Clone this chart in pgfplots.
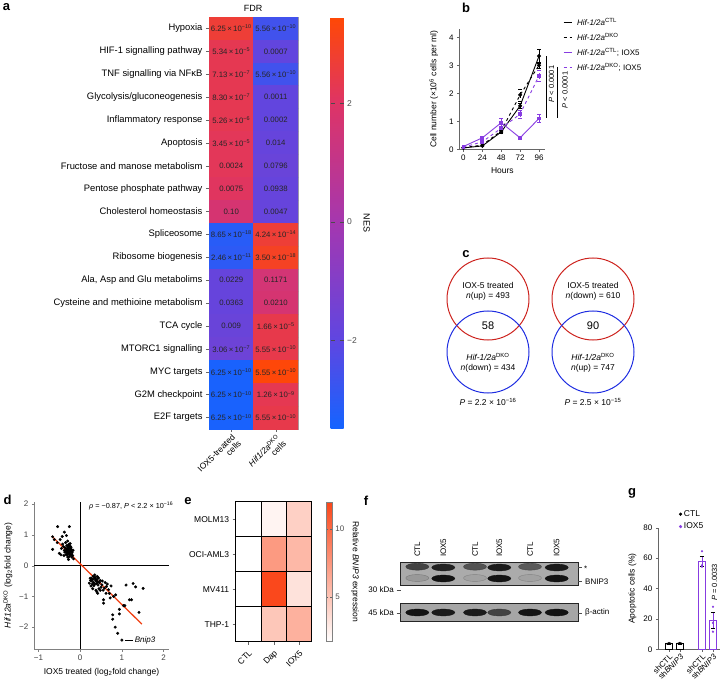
\documentclass[border=0pt]{standalone}
\usepackage{pgfplots}
\pgfplotsset{compat=1.18}
\usepackage{fontspec}
\setmainfont{Liberation Sans}
\definecolor{iox}{RGB}{135,60,225}
\definecolor{vred}{RGB}{205,35,30}
\definecolor{vblue}{RGB}{30,45,225}
\definecolor{regr}{RGB}{240,65,20}
\newcommand{\sci}[2]{#1\,×\,10\textsuperscript{#2}}
\newcommand{\fs}[1]{\fontsize{#1}{#1}\selectfont}
\pgfplotsset{every axis/.append style={/pgf/number format/assume math mode=true, font=\fs{8.5}}}
\begin{document}
\begin{tikzpicture}
\useasboundingbox (0,0) rectangle (721pt,-687pt);

% ---------- panel a: GSEA heatmap ----------
\begin{axis}[
  at={(209pt,-17pt)}, anchor=north west,
  scale only axis, width=89pt, height=412pt,
  xmin=-0.5, xmax=1.5, ymin=-0.5, ymax=17.5, y dir=reverse,
  axis line style={black!35, thin},
  xtick={0,1}, ytick={0,1,...,17},
  xticklabels={{IOX5-treated\\cells},{\textit{Hif1/2a}\textsuperscript{DKO}\\cells}},
  yticklabels={Hypoxia, HIF-1 signalling pathway, TNF signalling via NFκB,
    Glycolysis/gluconeogenesis, Inflammatory response, Apoptosis,
    Fructose and manose metabolism, Pentose phosphate pathway,
    Cholesterol homeostasis, Spliceosome, Ribosome biogenesis,
    {Ala, Asp and Glu metabolims}, Cysteine and methioine metabolism,
    TCA cycle, MTORC1 signalling, MYC targets, G2M checkpoint, E2F targets},
  xtick pos=bottom, ytick pos=left,
  tick align=outside, major tick length=3pt, tick style={black!60, thin},
  x tick label style={rotate=45, anchor=north east, align=right, font=\fs{8.5}, inner sep=1pt},
  y tick label style={font=\fs{9.4}},
  colormap={nes}{rgb255(0pt)=(20,100,255); rgb255(150pt)=(95,70,225); rgb255(350pt)=(165,55,175); rgb255(550pt)=(222,52,102); rgb255(696pt)=(255,72,5)},
  point meta min=-3.5, point meta max=3.46,
  colorbar,
  colorbar style={at={(parent axis.north east)}, anchor=north west, xshift=24pt, width=13pt,
    ytick={-2,0,2}, yticklabels={−2,0,2}, ylabel={NES},
    ylabel style={rotate=180, font=\fs{9}}, yticklabel style={font=\fs{8.5}, text=black!70},
    axis line style={draw=none}, major tick length=4pt, tick style={black!70}},
]
\addplot[matrix plot*, mesh/cols=2, point meta=explicit] table[meta=c] {
x y c
0 0 2.7
1 0 -2.6
0 1 2.3
1 1 -1.9
0 2 2.3
1 2 -2.6
0 3 2.3
1 3 -1.9
0 4 2.3
1 4 -1.9
0 5 2.2
1 5 -1.8
0 6 2.2
1 6 -1.7
0 7 2.1
1 7 -1.8
0 8 1.7
1 8 -1.8
0 9 -3.1
1 9 2.7
0 10 -3.0
1 10 3.0
0 11 -1.8
1 11 1.6
0 12 -1.8
1 12 1.7
0 13 -1.7
1 13 2.4
0 14 -1.6
1 14 2.4
0 15 -3.4
1 15 3.4
0 16 -3.4
1 16 2.3
0 17 -3.4
1 17 2.4
};
\addplot[draw=none, mark=none, nodes near coords, point meta=explicit symbolic,
  every node near coord/.style={font=\fs{7.8}, text=black!85, anchor=center}]
  table[meta=t] {
x y t
0 0 \sci{6.25}{−10}
1 0 \sci{5.56}{−10}
0 1 \sci{5.34}{−5}
1 1 0.0007
0 2 \sci{7.13}{−7}
1 2 \sci{5.56}{−10}
0 3 \sci{8.30}{−7}
1 3 0.0011
0 4 \sci{5.26}{−6}
1 4 0.0002
0 5 \sci{3.45}{−5}
1 5 0.014
0 6 0.0024
1 6 0.0796
0 7 0.0075
1 7 0.0938
0 8 0.10
1 8 0.0047
0 9 \sci{8.65}{−18}
1 9 \sci{4.24}{−14}
0 10 \sci{2.46}{−11}
1 10 \sci{3.50}{−18}
0 11 0.0229
1 11 0.1171
0 12 0.0363
1 12 0.0210
0 13 0.009
1 13 \sci{1.66}{−5}
0 14 \sci{3.06}{−7}
1 14 \sci{5.55}{−10}
0 15 \sci{6.25}{−10}
1 15 \sci{5.55}{−10}
0 16 \sci{6.25}{−10}
1 16 \sci{1.26}{−9}
0 17 \sci{6.25}{−10}
1 17 \sci{5.55}{−10}
};
\end{axis}
\node[font=\fs{9}] at (253pt,-8pt) {FDR};

% ---------- panel b: growth curves ----------
\begin{axis}[
  at={(459.5pt,-149.3pt)}, anchor=south west,
  scale only axis, width=85.8pt, height=120.4pt,
  xmin=-5, xmax=104, ymin=0, ymax=4.3,
  axis x line*=bottom, axis y line*=left, axis line style={black!60,-},
  xtick={0,24,48,72,96}, ytick={0,1,2,3,4},
  tick align=outside, major tick length=2.5pt, tick style={black!60},
  tick label style={font=\fs{8}},
  xlabel={Hours}, ylabel={Cell number (×10\textsuperscript{6} cells per ml)},
  label style={font=\fs{8.5}},
  ylabel style={xshift=0pt, yshift=4pt},
  clip=false,
  legend image code/.code={\draw[#1, mark=none] (0pt,0pt) -- (8pt,0pt);},
  legend style={at={(1.206,1.107)}, anchor=north west, draw=none, fill=none,
    font=\fs{8}, inner sep=0pt, row sep=2.5pt,
    /tikz/every odd column/.append style={column sep=3pt}},
  legend cell align=left,
  error bars/error bar style={line width=0.7pt},
  error bars/error mark options={rotate=90, mark size=1.8pt},
]
\addplot[black, line width=0.9pt, mark=*, mark size=1.5pt,
  error bars/.cd, y dir=both, y explicit] table[y error=e] {
x y e
0 0.05 0.01
24 0.12 0.02
48 0.62 0.05
72 1.55 0.08
96 3.33 0.25
};
\addlegendentry{\textit{Hif-1/2a}\textsuperscript{CTL}}
\addplot[black, dashed, line width=0.9pt, mark=*, mark size=1.5pt, mark options={solid},
  error bars/.cd, y dir=both, y explicit] table[y error=e] {
x y e
0 0.06 0.01
24 0.15 0.02
48 0.66 0.05
72 1.94 0.22
96 3.0 0.12
};
\addlegendentry{\textit{Hif-1/2a}\textsuperscript{DKO}}
\addplot[iox, line width=0.9pt, mark=square*, mark size=1.4pt,
  error bars/.cd, y dir=both, y explicit] table[y error=e] {
x y e
0 0.1 0.01
24 0.41 0.05
48 0.95 0.16
72 0.41 0.04
96 1.1 0.15
};
\addlegendentry{\textit{Hif-1/2a}\textsuperscript{CTL}; IOX5}
\addplot[iox, dashed, line width=0.9pt, mark=square*, mark size=1.4pt, mark options={solid},
  error bars/.cd, y dir=both, y explicit] table[y error=e] {
x y e
0 0.07 0.01
24 0.27 0.04
48 0.75 0.08
72 1.26 0.15
96 2.62 0.2
};
\addlegendentry{\textit{Hif-1/2a}\textsuperscript{DKO}; IOX5}
\draw[black, line width=0.8pt] (axis cs:104.9,3.33) -- (axis cs:104.9,1.12);
\draw[black, line width=0.8pt] (axis cs:118.9,2.94) -- (axis cs:118.9,1.12);
\node[rotate=90, font=\fs{7.5}] at (axis cs:111.9,2.33) {\textit{P} < 0.0001};
\node[rotate=90, font=\fs{7.5}] at (axis cs:129,2.12) {\textit{P} < 0.0001};
\end{axis}

% ---------- panel c: Venn diagrams ----------
\draw[vred, line width=1pt] (488pt,-299pt) circle[radius=41pt];
\draw[vblue, line width=1pt] (488pt,-352pt) circle[radius=41pt];
\draw[vred, line width=1pt] (593pt,-299pt) circle[radius=41pt];
\draw[vblue, line width=1pt] (593pt,-352pt) circle[radius=41pt];
\begin{scope}[every node/.style={font=\fs{8.5}}]
\node at (488pt,-285pt) {IOX-5 treated};
\node at (488pt,-296pt) {\textit{n}(up) = 493};
\node[font=\fs{11}] at (488pt,-326pt) {58};
\node at (488pt,-357pt) {\textit{Hif-1/2a}\textsuperscript{DKO}};
\node at (488pt,-368pt) {\textit{n}(down) = 434};
\node at (488pt,-402pt) {\textit{P} = 2.2 × 10\textsuperscript{−16}};
\node at (593pt,-285pt) {IOX-5 treated};
\node at (593pt,-296pt) {\textit{n}(down) = 610};
\node[font=\fs{11}] at (593pt,-326pt) {90};
\node at (593pt,-357pt) {\textit{Hif-1/2a}\textsuperscript{DKO}};
\node at (593pt,-368pt) {\textit{n}(up) = 747};
\node at (593pt,-402pt) {\textit{P} = 2.5 × 10\textsuperscript{−15}};
\end{scope}

% ---------- panel d: scatter ----------
\begin{axis}[
  at={(34.3pt,-649.3pt)}, anchor=south west, scale only axis,
  width=134.3pt, height=147.6pt,
  xmin=-1.1, xmax=2.12, ymin=-2.72, ymax=2.08,
  axis x line*=bottom, axis y line*=left, axis line style={black!50,-},
  xtick={-1,0,1,2}, xticklabels={−1,0,1,2},
  ytick={-2,-1,0,1,2}, yticklabels={−2,−1,0,1,2},
  tick align=outside, major tick length=2.5pt, tick style={black!50},
  tick label style={font=\fs{8}, text=black!75},
  xlabel={IOX5 treated (log\textsubscript{2}fold change)},
  ylabel={\textit{Hif12a}\textsuperscript{DKO} (log\textsubscript{2}fold change)},
  label style={font=\fs{8.5}},
  clip=false,
]
\addplot[black, line width=1pt] coordinates {(0,-2.72) (0,2.08)};
\addplot[black, line width=1pt] coordinates {(-1.1,0) (2.12,0)};
\addplot[only marks, mark=*, mark size=1.3pt, black] table {
x y
-0.30 0.45
-0.28 0.50
-0.25 0.42
-0.32 0.55
-0.27 0.38
-0.22 0.47
-0.35 0.48
-0.29 0.60
-0.24 0.55
-0.31 0.35
-0.26 0.30
-0.20 0.38
-0.33 0.42
-0.23 0.62
-0.36 0.58
-0.28 0.68
-0.21 0.52
-0.34 0.36
-0.30 0.28
-0.25 0.48
-0.27 0.57
-0.32 0.65
-0.38 0.50
-0.19 0.44
-0.24 0.35
-0.29 0.41
-0.22 0.58
-0.37 0.44
-0.26 0.64
-0.31 0.52
-0.18 0.33
-0.40 0.62
-0.35 0.75
-0.30 0.80
-0.42 0.70
-0.24 0.72
-0.17 0.50
-0.45 0.56
-0.39 0.33
-0.20 0.28
-0.66 0.94
-0.62 0.85
-0.66 0.53
-0.54 1.27
-0.26 1.27
-0.38 1.09
-0.33 0.98
-0.50 0.40
-0.46 0.35
-0.55 0.75
-0.48 0.85
-0.16 0.22
-0.43 0.95
-0.28 0.20
0.34 -0.41
0.30 -0.45
0.38 -0.50
0.32 -0.55
0.36 -0.38
0.40 -0.44
0.28 -0.50
0.42 -0.52
0.35 -0.60
0.31 -0.35
0.39 -0.58
0.44 -0.40
0.27 -0.42
0.37 -0.47
0.33 -0.65
0.46 -0.55
0.29 -0.60
0.41 -0.35
0.35 -0.30
0.48 -0.48
0.25 -0.48
0.43 -0.63
0.22 -0.57
0.24 -0.41
0.42 -0.90
0.58 -0.73
0.62 -0.90
0.56 -1.11
0.56 -1.22
0.74 -0.66
0.78 -1.60
0.78 -1.74
0.94 -1.42
0.94 -1.57
0.84 -2.00
0.90 -2.20
1.00 -2.42
1.04 -1.30
1.07 -1.30
1.10 -0.63
1.18 -1.11
1.23 -1.11
1.27 -0.58
1.33 -0.69
1.41 -1.52
1.51 -0.74
0.70 -0.90
0.52 -0.62
0.55 -0.80
0.65 -0.60
0.48 -0.80
0.40 -0.85
0.60 -0.55
0.68 -0.78
0.50 -0.70
0.45 -0.75
0.38 -0.80
0.53 -0.50
0.63 -0.68
0.80 -1.00
0.72 -1.05
0.85 -0.95
0.30 -0.75
0.26 -0.66
};
\addplot[regr, line width=1.3pt] coordinates {(-0.68,0.96) (1.48,-1.90)};
\draw[black, line width=0.7pt] (axis cs:1.07,-2.42) -- (axis cs:1.26,-2.42);
\node[anchor=west, font=\fs{8}\itshape, inner sep=1pt] at (axis cs:1.28,-2.42) {Bnip3};
\node[anchor=west, font=\fs{7.3}, inner sep=0pt] at (axis cs:0.21,1.94) {\textit{ρ} = −0.87, \textit{P} < 2.2 × 10\textsuperscript{−16}};
\end{axis}

% ---------- panel e: BNIP3 heatmap ----------
\begin{axis}[
  at={(235.7pt,-501.7pt)}, anchor=north west, scale only axis,
  width=76pt, height=140pt,
  xmin=-0.5, xmax=2.5, ymin=-0.5, ymax=3.5, y dir=reverse,
  xtick={0,1,2}, xticklabels={CTL,Dap,IOX5},
  ytick={0,1,2,3}, yticklabels={MOLM13,OCI-AML3,MV411,THP-1},
  xtick pos=bottom, ytick pos=left, tick align=outside, major tick length=3pt,
  tick style={black!60},
  x tick label style={rotate=45, anchor=north east, font=\fs{8.5}},
  y tick label style={font=\fs{8.5}},
  axis on top, axis line style={black, line width=0.9pt},
  minor xtick={0.5,1.5}, minor ytick={0.5,1.5,2.5}, xminorgrids, yminorgrids,
  minor grid style={black, line width=0.9pt}, minor tick length=0pt,
  colormap={bn}{rgb255=(255,255,255) rgb255=(250,70,25)},
  point meta min=1.7, point meta max=12,
  colorbar,
  colorbar style={at={(parent axis.north east)}, anchor=north west, xshift=6pt, width=5.6pt,
    ytick={5,10}, ylabel={Relative \textit{BNIP3} expression},
    ylabel style={rotate=180, font=\fs{8.5}}, yticklabel style={font=\fs{8}, text=black!70},
    axis line style={black!50, thin}, major tick length=2pt, tick style={black!60}},
]
\addplot[matrix plot*, mesh/cols=3, point meta=explicit] table[meta=c] {
x y c
0 0 1
1 0 2.3
2 0 4.3
0 1 1
1 1 7.3
2 1 5.6
0 2 1
1 2 11.8
2 2 3.3
0 3 1
1 3 4.8
2 3 6.0
};
\end{axis}

% ---------- panel f: western blot ----------
\begin{axis}[
  at={(395pt,-530pt)}, anchor=north west, scale only axis,
  width=190pt, height=100pt, xmin=395, xmax=585, ymin=530, ymax=630, y dir=reverse,
  hide axis, clip=false,
  colormap={band}{rgb255=(172,172,172) rgb255=(12,12,12)},
  point meta min=0, point meta max=1,
]
\addplot[fill=black!33, draw=black!85, line width=0.9pt] coordinates {(400.7,562.7) (578.3,562.7) (578.3,585.7) (400.7,585.7)} -- cycle;
\addplot[fill=black!35, draw=black!85, line width=0.9pt] coordinates {(400.7,603.3) (578.3,603.3) (578.3,621.7) (400.7,621.7)} -- cycle;
\addplot[scatter, only marks, mark=*, scatter src=explicit, mark size=11.5pt, mark options={yscale=0.3}] table[meta=c] {
x y c
417.3 566.7 0.65
443.3 567.5 0.85
475.0 566.7 0.55
499.3 567.5 0.9
530.0 566.7 0.5
556.7 567.5 0.9
417.3 578 0.12
443.3 578.5 0.95
475.0 578 0.06
499.3 578.5 0.95
530.0 578 0.06
556.7 578.5 0.95
417.3 612.5 0.95
443.3 612.5 0.9
475.0 612.5 0.9
499.3 612.5 0.65
530.0 612.5 0.95
556.7 612.5 0.95
};
\end{axis}
\begin{scope}[every node/.style={font=\fs{8}}]
\foreach \xx/\lab in {417.3/CTL, 443.3/IOX5, 475/CTL, 499.3/IOX5, 530/CTL, 556.7/IOX5}
  \node[rotate=90, anchor=west, inner sep=0pt] at (\xx pt,-557pt) {\lab};
\draw[black!70] (578.3pt,-567pt) -- (582pt,-567pt);
\node[anchor=west, inner sep=1pt] at (583pt,-569pt) {*};
\draw[black!70] (578.3pt,-581.5pt) -- (582pt,-581.5pt);
\node[anchor=west, inner sep=1pt] at (584pt,-581.5pt) {BNIP3};
\draw[black!70] (578.3pt,-612.7pt) -- (582pt,-612.7pt);
\node[anchor=west, inner sep=1pt] at (584pt,-612.7pt) {β-actin};
\draw[black!70] (396.5pt,-590pt) -- (400.7pt,-590pt);
\node[anchor=east, inner sep=1pt] at (395pt,-590pt) {30 kDa};
\draw[black!70] (396.5pt,-612.7pt) -- (400.7pt,-612.7pt);
\node[anchor=east, inner sep=1pt] at (395pt,-612.7pt) {45 kDa};
\end{scope}

% ---------- panel g: apoptosis bars ----------
\begin{axis}[
  at={(658.3pt,-649.3pt)}, anchor=south west, scale only axis,
  width=61.7pt, height=121.6pt,
  xmin=-0.97, xmax=4.64, ymin=0, ymax=80,
  axis x line*=bottom, axis y line*=left, axis line style={black!60,-},
  ytick={0,20,40,60,80}, xtick={0,1,3,4},
  xticklabels={shCTL, sh\textit{BNIP3}, shCTL, sh\textit{BNIP3}},
  tick align=outside, major tick length=2.5pt, tick style={black!60},
  tick label style={font=\fs{8}},
  x tick label style={rotate=45, anchor=north east, inner sep=1pt},
  ylabel={Apoptotic cells (\%)}, label style={font=\fs{8.5}},
  clip=false,
  legend style={at={(0.335,1.16)}, anchor=north west, draw=none, fill=none,
    font=\fs{8.5}, inner sep=0pt, row sep=1pt},
  legend cell align=left,
]
\addlegendimage{only marks, mark=*, black, mark size=1.4pt}
\addlegendentry{CTL}
\addlegendimage{only marks, mark=*, iox, mark size=1.4pt}
\addlegendentry{IOX5}
\addplot[ybar, bar width=6.7pt, fill=white, draw=black, line width=0.9pt,
  error bars/.cd, y dir=both, y explicit, error mark options={rotate=90, mark size=2pt}]
  coordinates {(0,3.8) +- (0,0.3) (1,3.9) +- (0,0.3)};
\addplot[ybar, bar width=6.7pt, fill=white, draw=iox, line width=0.9pt,
  error bars/.cd, y dir=both, y explicit, error mark options={rotate=90, mark size=2pt}]
  coordinates {(3,58) +- (0,3.3) (4,19) +- (0,5.2)};
\addplot[only marks, mark=*, mark size=0.9pt, black] coordinates {
(-0.15,3.6) (0,4.1) (0.15,3.7) (0.85,3.8) (1,4.2) (1.15,3.7)};
\addplot[only marks, mark=*, mark size=0.9pt, iox] coordinates {
(3,64.5) (3,54.3) (3,55.2) (4,11.6) (4,17.4) (4,28)};
\node[rotate=90, font=\fs{7.5}] at (axis cs:4.15,44) {\textit{P} = 0.0033};
\end{axis}

% ---------- panel letters ----------
\begin{scope}[every node/.style={font=\fs{13}\bfseries, inner sep=0pt}]
\node at (6.5pt,-7.5pt) {a};
\node at (466pt,-8pt) {b};
\node at (466pt,-254pt) {c};
\node at (7.5pt,-500pt) {d};
\node at (188pt,-501pt) {e};
\node at (366pt,-501pt) {f};
\node at (632pt,-493pt) {g};
\end{scope}
\end{tikzpicture}
\end{document}
